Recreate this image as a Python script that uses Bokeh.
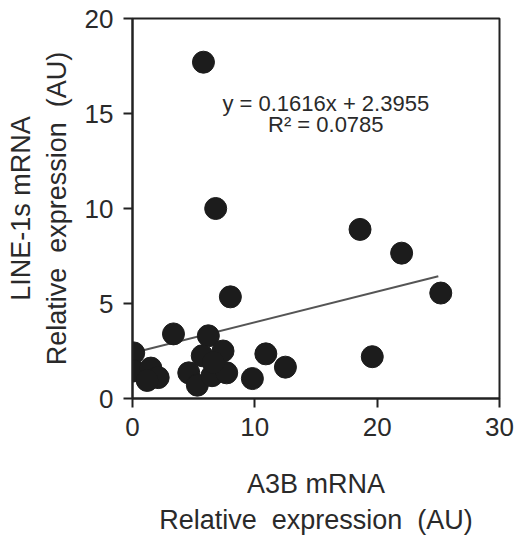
from bokeh.plotting import figure
from bokeh.models import FixedTicker, Range1d, Label
from bokeh.embed import file_html
from bokeh.resources import INLINE

# Data
a3b = [5.8, 6.8, 18.6, 22.0, 25.2, 19.6, 8.0, 3.35, 0.1, 6.2, 7.4, 5.7,
       0.1, 1.5, 2.1, 1.2, 4.6, 5.3, 6.5, 7.7, 6.6, 9.8, 10.9, 12.5]
line1 = [17.7, 10.0, 8.9, 7.65, 5.55, 2.2, 5.35, 3.4, 2.4, 3.3, 2.5, 2.25,
         1.45, 1.6, 1.1, 0.95, 1.35, 0.7, 1.2, 1.35, 1.9, 1.05, 2.35, 1.65]
slope = 0.1616
intercept = 2.3955
r2 = 0.0785
fit_x = [0, 25]
fit_y = [slope * v + intercept for v in fit_x]
x_ticks = [0, 10, 20, 30]
y_ticks = [0, 5, 10, 15, 20]

FONT = "Liberation Sans"
TXT = "#2a2a2a"

p = figure(width=518, height=541, output_backend="svg", toolbar_location=None,
           x_range=Range1d(0, 30), y_range=Range1d(0, 20),
           min_border_left=132, min_border_right=19, min_border_top=18,
           min_border_bottom=143)
p.grid.visible = False
p.outline_line_color = "#222222"
p.outline_line_width = 2
p.background_fill_color = "white"
p.border_fill_color = "white"

for ax in (p.xaxis[0], p.yaxis[0]):
    ax.axis_line_color = "#222222"
    ax.axis_line_width = 2
    ax.major_tick_line_color = "#222222"
    ax.major_tick_line_width = 2
    ax.major_tick_in = 0
    ax.major_tick_out = 9
    ax.minor_tick_line_color = None
    ax.major_label_text_font = FONT
    ax.major_label_text_font_size = "26px"
    ax.major_label_text_color = TXT
    ax.axis_label_text_font = FONT
    ax.axis_label_text_font_size = "27px"
    ax.axis_label_text_font_style = "normal"
    ax.axis_label_text_color = TXT

p.xaxis.ticker = FixedTicker(ticks=x_ticks)
p.yaxis.ticker = FixedTicker(ticks=y_ticks)
p.xaxis.axis_label = "A3B mRNA\nRelative\u00a0 expression\u00a0 (AU)"
p.yaxis.axis_label = "LINE-1s mRNA\nRelative\u00a0 expression\u00a0 (AU)"
p.xaxis.major_label_standoff = 10
p.yaxis.major_label_standoff = 10
p.xaxis.axis_label_standoff = 30
p.yaxis.axis_label_standoff = 10

p.line(fit_x, fit_y, line_color="#555555", line_width=2)
p.scatter(a3b, line1, size=22, fill_color="#1c1c1c", line_color="#1c1c1c")

p.add_layout(Label(x=15.8, y=15.55, text="y = 0.1616x + 2.3955", text_align="center",
                   text_baseline="middle", text_font=FONT, text_font_size="22px",
                   text_color=TXT))
p.add_layout(Label(x=15.8, y=14.4, text="R² = 0.0785", text_align="center",
                   text_baseline="middle", text_font=FONT, text_font_size="22px",
                   text_color=TXT))

open("out.html", "w").write(file_html(p, INLINE))
